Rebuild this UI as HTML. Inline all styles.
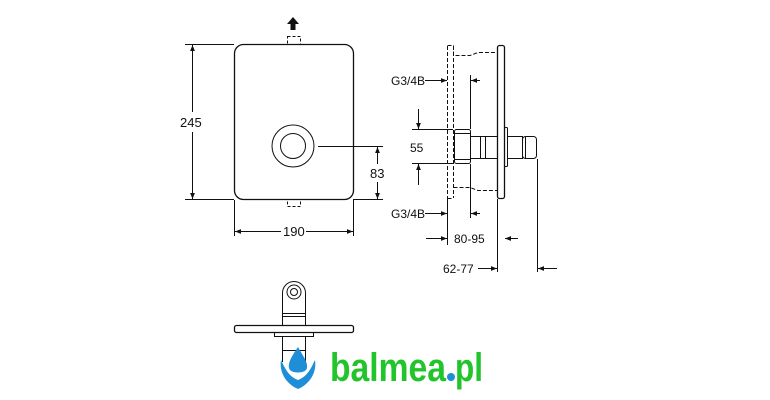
<!DOCTYPE html>
<html><head><meta charset="utf-8"><style>
html,body{margin:0;padding:0;background:#fff;}
svg{display:block}
text{font-family:"Liberation Sans",sans-serif;fill:#111}
</style></head><body>
<svg width="770" height="400" viewBox="0 0 770 400" xmlns="http://www.w3.org/2000/svg">
<defs>
<marker id="a" viewBox="0 0 10 10" refX="10" refY="5" markerWidth="8" markerHeight="6" orient="auto-start-reverse" markerUnits="userSpaceOnUse"><path d="M0,1 L10,5 L0,9 z" fill="#111"/></marker>
</defs>
<g stroke="#111" fill="none" stroke-width="1">
<rect x="234.5" y="44.5" width="119" height="155" rx="9" stroke-width="1.3"/>
<circle cx="293" cy="146" r="21"/>
<circle cx="293" cy="146" r="12.5"/>
<rect x="287.5" y="36.5" width="13" height="8" stroke-dasharray="3,2"/>
<rect x="287.5" y="199.5" width="13" height="7" stroke-dasharray="3,2"/>
<line x1="185" y1="44.5" x2="234" y2="44.5"/>
<line x1="185" y1="199.5" x2="234" y2="199.5"/>
<line x1="192.5" y1="45" x2="192.5" y2="112" marker-start="url(#a)"/>
<line x1="192.5" y1="132" x2="192.5" y2="199" marker-end="url(#a)"/>
<line x1="234.5" y1="200" x2="234.5" y2="236"/>
<line x1="353.5" y1="200" x2="353.5" y2="236"/>
<line x1="235" y1="231.5" x2="281" y2="231.5" marker-start="url(#a)"/>
<line x1="306" y1="231.5" x2="353" y2="231.5" marker-end="url(#a)"/>
<line x1="318" y1="146.5" x2="383" y2="146.5"/>
<line x1="353" y1="199.5" x2="383" y2="199.5"/>
<line x1="377.5" y1="147" x2="377.5" y2="164" marker-start="url(#a)"/>
<line x1="377.5" y1="182" x2="377.5" y2="199" marker-end="url(#a)"/>
<rect x="497.5" y="45.5" width="7" height="153" rx="2" stroke-width="1.3"/>
<path d="M447.5,46 V198 M453.5,46 V198 M447.5,45.5 H453.5 V55.5 H470 L478,52.5 H497 M447.5,198.5 H453.5 M453.5,187.5 H470 L478,190.5 H497" stroke-dasharray="4,2"/>
<rect x="454.5" y="129.5" width="16" height="34" rx="2"/>
<line x1="455" y1="133.5" x2="470" y2="133.5"/>
<line x1="455" y1="159.5" x2="470" y2="159.5"/>
<rect x="470.5" y="136.5" width="27" height="22"/>
<line x1="480.5" y1="137" x2="480.5" y2="158"/>
<line x1="485.5" y1="137" x2="485.5" y2="158"/>
<rect x="504.5" y="127.5" width="3" height="39" rx="1"/>
<rect x="507.5" y="136.5" width="15" height="22"/>
<rect x="522.5" y="136.5" width="14" height="22" rx="3"/>
<line x1="525.5" y1="137" x2="525.5" y2="158"/>
<line x1="425" y1="80.5" x2="447" y2="80.5" marker-end="url(#a)"/>
<line x1="480" y1="80.5" x2="471" y2="80.5" marker-end="url(#a)"/>
<line x1="425" y1="213.5" x2="447" y2="213.5" marker-end="url(#a)"/>
<line x1="480" y1="213.5" x2="471" y2="213.5" marker-end="url(#a)"/>
<line x1="470.5" y1="75" x2="470.5" y2="129"/>
<line x1="470.5" y1="164" x2="470.5" y2="218"/>
<line x1="447.5" y1="198" x2="447.5" y2="245"/>
<line x1="412" y1="129.5" x2="453" y2="129.5"/>
<line x1="412" y1="163.5" x2="453" y2="163.5"/>
<line x1="418.5" y1="109" x2="418.5" y2="129" marker-end="url(#a)"/>
<line x1="418.5" y1="185" x2="418.5" y2="164" marker-end="url(#a)"/>
<line x1="426" y1="238.5" x2="447" y2="238.5" marker-end="url(#a)"/>
<line x1="518" y1="238.5" x2="505" y2="238.5" marker-end="url(#a)"/>
<line x1="497.5" y1="199" x2="497.5" y2="272"/>
<line x1="537.5" y1="159" x2="537.5" y2="272"/>
<line x1="478" y1="268.5" x2="497" y2="268.5" marker-end="url(#a)"/>
<line x1="557" y1="268.5" x2="538" y2="268.5" marker-end="url(#a)"/>
<path d="M282.5,325 V293 A11.5,11.5 0 0 1 305.5,293 V325"/>
<circle cx="294" cy="292" r="7"/>
<circle cx="294" cy="292" r="3.5"/>
<line x1="283" y1="313.5" x2="305" y2="313.5"/>
<line x1="283" y1="316.5" x2="305" y2="316.5"/>
<rect x="234.5" y="325.5" width="119" height="7" rx="2" stroke-width="1.3"/>
<rect x="274.5" y="332.5" width="39" height="4"/>
<path d="M282.5,337 V362 M305.5,337 V362 M283,350.5 H305"/>
</g>
<g>
<rect x="179" y="113" width="27" height="16" fill="#fff"/>
<text x="180" y="127" style="font-size:13px">245</text>
<rect x="282" y="224" width="24" height="15" fill="#fff"/>
<text x="283" y="236" style="font-size:13px">190</text>
<text x="370" y="178" style="font-size:13px">83</text>
<text x="391" y="85" style="font-size:12px">G3/4B</text>
<text x="391" y="218" style="font-size:12px">G3/4B</text>
<text x="410" y="152" style="font-size:12px">55</text>
<text x="454" y="243" style="font-size:12px">80-95</text>
<text x="443" y="273" style="font-size:12px">62-77</text>
</g>
<path d="M293,17 L299,24 H295.5 V30 H290.5 V24 H287 z" fill="#111"/>
<g>
<path d="M298,347 C292,356 288,362 289,368 C290,374 306,374 307,368 C308,362 303,356 298,347 z" fill="#1e8fd6"/>
<path d="M281,360 C279,372 286,384 298,389 C310,384 317,372 315,360 C311,368 308,376 298,380 C288,376 285,368 281,360 z" fill="#1e8fd6"/>
<text x="330" y="381" style="font-size:40px;font-weight:bold;fill:#22c42c" textLength="116" lengthAdjust="spacingAndGlyphs">balmea</text>
<circle cx="451" cy="377" r="4" fill="#1e8fd6"/>
<text x="455" y="381" style="font-size:40px;font-weight:bold;fill:#22c42c" textLength="28" lengthAdjust="spacingAndGlyphs">pl</text>
</g>
</svg>
</body></html>
